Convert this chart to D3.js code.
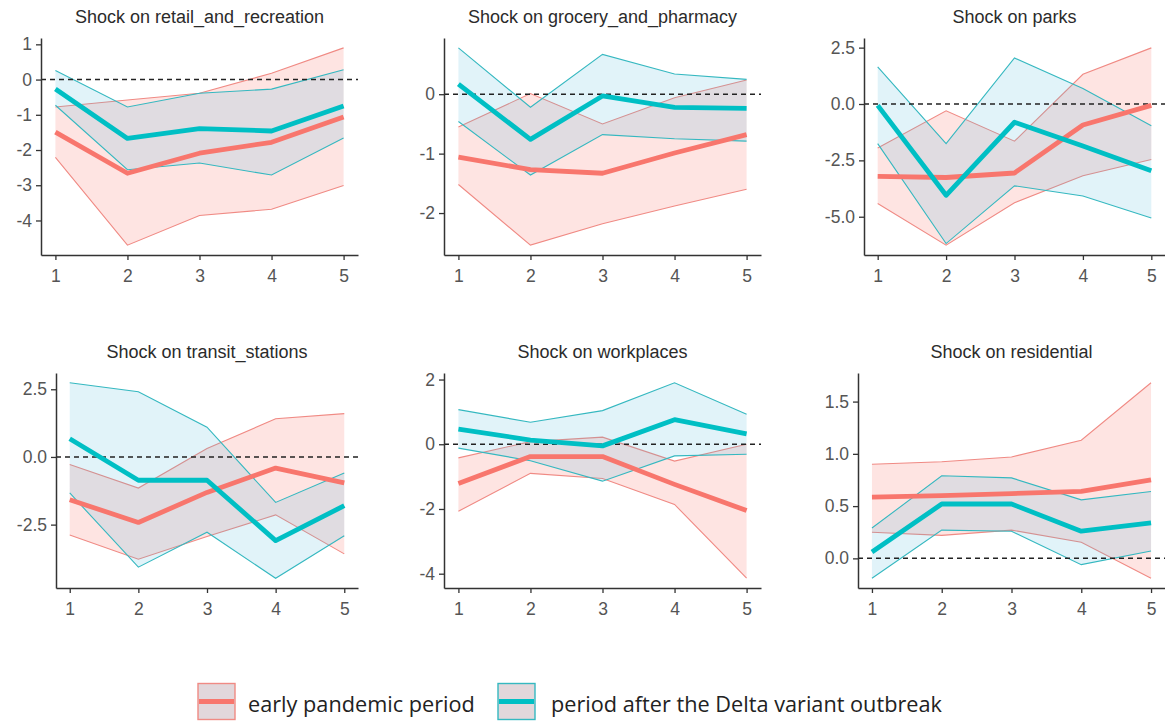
<!DOCTYPE html>
<html>
<head>
<meta charset="utf-8">
<script src="https://cdn.jsdelivr.net/npm/d3@7"></script>
<style>
  html, body { margin: 0; padding: 0; background: #fff; }
  svg { display: block; }
</style>
</head>
<body>
<svg id="chart" width="1165" height="722"></svg>
<script>
// Impulse responses (horizon 1-5): point estimate with lower / upper band
const horizons = [1, 2, 3, 4, 5];

const retailEarly   = { est: [-1.49, -2.66, -2.09, -1.78, -1.06], lo: [-2.21, -4.70, -3.86, -3.68, -3.01], hi: [-0.78, -0.58, -0.39, 0.18, 0.90] };
const retailDelta   = { est: [-0.27, -1.67, -1.39, -1.46, -0.75], lo: [-0.73, -2.56, -2.37, -2.71, -1.66], hi: [0.26, -0.78, -0.39, -0.27, 0.28] };

const groceryEarly  = { est: [-1.06, -1.27, -1.33, -0.99, -0.68], lo: [-1.52, -2.54, -2.18, -1.88, -1.60], hi: [-0.55, 0.01, -0.50, -0.06, 0.24] };
const groceryDelta  = { est: [0.17, -0.76, -0.03, -0.22, -0.24], lo: [-0.46, -1.36, -0.68, -0.75, -0.79], hi: [0.78, -0.22, 0.67, 0.34, 0.25] };

const parksEarly    = { est: [-3.21, -3.26, -3.06, -0.93, -0.06], lo: [-4.41, -6.26, -4.38, -3.18, -2.46], hi: [-1.95, -0.30, -1.65, 1.32, 2.49] };
const parksDelta    = { est: [-0.06, -4.05, -0.81, -1.86, -2.96], lo: [-1.76, -6.19, -3.63, -4.08, -5.06], hi: [1.65, -1.76, 2.04, 0.69, -0.96] };

const transitEarly  = { est: [-1.58, -2.42, -1.31, -0.41, -0.96], lo: [-2.88, -3.78, -2.94, -2.14, -3.58], hi: [-0.28, -1.15, 0.31, 1.41, 1.60] };
const transitDelta  = { est: [0.67, -0.86, -0.86, -3.09, -1.80], lo: [-1.33, -4.07, -2.78, -4.48, -2.91], hi: [2.74, 2.41, 1.10, -1.68, -0.59] };

const workEarly     = { est: [-1.21, -0.38, -0.38, -1.24, -2.05], lo: [-2.07, -0.90, -1.06, -1.86, -4.14], hi: [-0.42, 0.08, 0.22, -0.52, 0.00] };
const workDelta     = { est: [0.47, 0.13, -0.05, 0.76, 0.32], lo: [-0.12, -0.51, -1.14, -0.36, -0.31], hi: [1.07, 0.68, 1.04, 1.90, 0.93] };

const resEarly      = { est: [0.585, 0.60, 0.62, 0.64, 0.75], lo: [0.25, 0.22, 0.27, 0.155, -0.19], hi: [0.90, 0.925, 0.97, 1.13, 1.68] };
const resDelta      = { est: [0.06, 0.52, 0.52, 0.26, 0.34], lo: [-0.19, 0.27, 0.26, -0.06, 0.07], hi: [0.29, 0.79, 0.77, 0.56, 0.64] };

const panelTitles = [
  "Shock on retail_and_recreation", "Shock on grocery_and_pharmacy", "Shock on parks",
  "Shock on transit_stations", "Shock on workplaces", "Shock on residential"
];
const yTicks = [
  [-4, -3, -2, -1, 0, 1], [-2, -1, 0], [-5, -2.5, 0, 2.5],
  [-2.5, 0, 2.5], [-4, -2, 0, 2], [0, 0.5, 1, 1.5]
];
const yDecimals = [0, 0, 1, 1, 0, 1];
const seriesLabels = ["early pandemic period", "period after the Delta variant outbreak"];

const series = [
  [retailEarly, retailDelta], [groceryEarly, groceryDelta], [parksEarly, parksDelta],
  [transitEarly, transitDelta], [workEarly, workDelta], [resEarly, resDelta]
];

// Panel boxes (plot area of each facet)
const boxes = [
  { x0: 41,  x1: 358,  y0: 38,  y1: 255 },
  { x0: 444, x1: 761,  y0: 38,  y1: 255 },
  { x0: 864, x1: 1165, y0: 38,  y1: 255 },
  { x0: 56,  x1: 358,  y0: 373, y1: 588 },
  { x0: 444, x1: 761,  y0: 373, y1: 588 },
  { x0: 858, x1: 1165, y0: 373, y1: 588 }
];

const lineCol = ["#F8766D", "#00BFC4"];
const bandFill = ["rgba(248,118,109,0.2)", "rgba(80,182,222,0.17)"];
const bandEdge = ["#F08A84", "#35B8C0"];

const svg = d3.select("#chart");

boxes.forEach((b, i) => {
  const [early, delta] = series[i];
  const all = [early, delta].flatMap(s => s.lo.concat(s.hi, s.est));
  const [mn, mx] = d3.extent(all);
  const pad = (mx - mn) * 0.05;

  const x = d3.scaleLinear().domain([0.8, 5.2]).range([b.x0, b.x1]);
  const y = d3.scaleLinear().domain([mn - pad, mx + pad]).range([b.y1, b.y0]);

  const g = svg.append("g");

  const rows = s => horizons.map((h, k) => ({ h, est: s.est[k], lo: s.lo[k], hi: s.hi[k] }));

  const area = d3.area().x(d => x(d.h)).y0(d => y(d.lo)).y1(d => y(d.hi));
  const edgeLo = d3.line().x(d => x(d.h)).y(d => y(d.lo));
  const edgeHi = d3.line().x(d => x(d.h)).y(d => y(d.hi));
  const mean = d3.line().x(d => x(d.h)).y(d => y(d.est));

  [early, delta].forEach((s, j) => {
    const r = rows(s);
    g.append("path").attr("d", area(r)).attr("fill", bandFill[j]).attr("stroke", "none");
    g.append("path").attr("d", edgeLo(r)).attr("fill", "none").attr("stroke", bandEdge[j]).attr("stroke-width", 1.1);
    g.append("path").attr("d", edgeHi(r)).attr("fill", "none").attr("stroke", bandEdge[j]).attr("stroke-width", 1.1);
  });

  // zero reference line
  g.append("line")
    .attr("x1", b.x0).attr("x2", b.x1)
    .attr("y1", y(0)).attr("y2", y(0))
    .attr("stroke", "#222").attr("stroke-width", 1.5)
    .attr("stroke-dasharray", "5,4");

  [early, delta].forEach((s, j) => {
    g.append("path").attr("d", mean(rows(s)))
      .attr("fill", "none").attr("stroke", lineCol[j])
      .attr("stroke-width", 4.8).attr("stroke-linejoin", "round");
  });

  // axes
  const dec = yDecimals[i];
  const yAxis = d3.axisLeft(y).tickValues(yTicks[i])
    .tickFormat(v => v.toFixed(dec)).tickSizeInner(5).tickSizeOuter(0).tickPadding(4);
  const xAxis = d3.axisBottom(x).tickValues(horizons)
    .tickFormat(d3.format("d")).tickSizeInner(5).tickSizeOuter(0).tickPadding(10);

  const ya = g.append("g").attr("transform", `translate(${b.x0},0)`).call(yAxis);
  const xa = g.append("g").attr("transform", `translate(0,${b.y1})`).call(xAxis);

  [ya, xa].forEach(a => {
    a.select(".domain").attr("stroke", "#333").attr("stroke-width", 1.5);
    a.selectAll(".tick line").attr("stroke", "#333").attr("stroke-width", 1.3);
    a.selectAll(".tick text")
      .attr("fill", "#555")
      .style("font-family", "'Liberation Sans', Arial, sans-serif")
      .style("font-size", "17.5px");
  });

  g.append("text")
    .attr("x", (b.x0 + b.x1) / 2)
    .attr("y", b.y0 - 15.5)
    .attr("text-anchor", "middle")
    .attr("fill", "#2b2b2b")
    .style("font-family", "'Liberation Sans', Arial, sans-serif")
    .style("font-size", "18px")
    .text(panelTitles[i]);
});

// legend
const legendItems = [
  { key: 198, text: 248 },
  { key: 498, text: 551 }
];
const legend = svg.append("g");
legendItems.forEach((it, j) => {
  legend.append("rect")
    .attr("x", it.key).attr("y", 683.5).attr("width", 37).attr("height", 36)
    .attr("fill", "#E2D7DB").attr("stroke", bandEdge[j]).attr("stroke-width", 1.4);
  legend.append("line")
    .attr("x1", it.key + 1).attr("x2", it.key + 36)
    .attr("y1", 701.5).attr("y2", 701.5)
    .attr("stroke", lineCol[j]).attr("stroke-width", 4.8);
  legend.append("text")
    .attr("x", it.text).attr("y", 711.5)
    .attr("fill", "#222")
    .style("font-family", "'Open Sans', sans-serif")
    .style("font-size", "21.7px")
    .text(seriesLabels[j]);
});
</script>
</body>
</html>
